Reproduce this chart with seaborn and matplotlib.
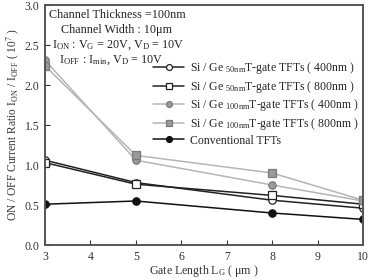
import pandas as pd
import seaborn as sns
import matplotlib.pyplot as plt

gate_length = [3, 5, 8, 10]

sige50_400 = [1.06, 0.78, 0.56, 0.46]
sige50_800 = [1.03, 0.76, 0.62, 0.51]
sige100_400 = [2.31, 1.06, 0.75, 0.55]
sige100_800 = [2.24, 1.12, 0.90, 0.56]
conventional = [0.51, 0.55, 0.40, 0.32]

labels = [
    r'Si / Ge $_{\mathrm{50nm}}$T-gate TFTs ( 400nm )',
    r'Si / Ge $_{\mathrm{50nm}}$T-gate TFTs ( 800nm )',
    r'Si / Ge $_{\mathrm{100nm}}$T-gate TFTs ( 400nm )',
    r'Si / Ge $_{\mathrm{100nm}}$T-gate TFTs ( 800nm )',
    'Conventional TFTs',
]

info_lines = [
    "Channel Thickness =100nm",
    "Channel Width : 10μm",
    r"I$_{\mathrm{ON}}$ : V$_{\mathrm{G}}$ = 20V, V$_{\mathrm{D}}$ = 10V",
    r"I$_{\mathrm{OFF}}$ : I$_{\mathrm{min}}$, V$_{\mathrm{D}}$ = 10V",
]

sns.set_style("ticks")
plt.rcParams["font.family"] = ["Liberation Serif", "DejaVu Serif"]
plt.rcParams["mathtext.fontset"] = "custom"
plt.rcParams["mathtext.rm"] = "Liberation Serif"
plt.rcParams["mathtext.it"] = "Liberation Serif:italic"

fig = plt.figure(figsize=(3.69, 2.8), dpi=100)
ax = fig.add_axes([0.122, 0.125, 0.862, 0.857])

# (values, marker, line colour, face colour, edge colour)
styles = [
    (sige50_400, 'o', '#222222', 'white', '#222222'),
    (sige50_800, 's', '#222222', 'white', '#222222'),
    (sige100_400, 'o', '#b5b5b5', '#9a9a9a', '#7a7a7a'),
    (sige100_800, 's', '#b5b5b5', '#9a9a9a', '#7a7a7a'),
    (conventional, 'o', '#111111', '#111111', '#111111'),
]

for (vals, mk, lc, fc, ec), lab in zip(styles, labels):
    df = pd.DataFrame({'Lg': gate_length, 'ratio': vals})
    sns.lineplot(data=df, x='Lg', y='ratio', ax=ax, color=lc, marker=mk,
                 markersize=5.3, markerfacecolor=fc, markeredgecolor=ec,
                 markeredgewidth=0.9, linewidth=1.1, label=lab)

ax.set_xlim(3, 10)
ax.set_ylim(0, 3.0)
ax.set_xticks(range(3, 11))
ax.set_yticks([0.0, 0.5, 1.0, 1.5, 2.0, 2.5, 3.0])
ax.set_yticklabels(['0.0', '0.5', '1.0', '1.5', '2.0', '2.5', '3.0'])
ax.tick_params(direction='in', length=3.5, labelsize=8.5, colors='#333333',
               pad=4)
for s in ax.spines.values():
    s.set_linewidth(1.4)
    s.set_color('#555555')

ax.set_xlabel(r'Gate Length L$_{\mathrm{G}}$ ( $\mathrm{\mu}$m )',
              fontsize=8.6, labelpad=0, color='#333333')
ax.set_ylabel(r'ON / OFF Current Ratio I$_{\mathrm{ON}}$ / I$_{\mathrm{OFF}}$ ( 10$^{7}$ )',
              fontsize=8.3, labelpad=2, color='#333333')

line_y = [0.958, 0.896, 0.833, 0.771]
line_x = [0.226, 0.226, 0.229, 0.208]
for txt, tx, ty in zip(info_lines, line_x, line_y):
    ax.text(tx, ty, txt, transform=ax.transAxes, ha='center', va='center',
            fontsize=8.7, color='#222222')

ax.legend(loc='upper left', bbox_to_anchor=(0.34, 0.77), frameon=False,
          fontsize=8.5, handlelength=2.6, labelspacing=0.22,
          handletextpad=0.5, borderaxespad=0, borderpad=0, markerscale=0.8)

fig.savefig("out.png", dpi=100)
